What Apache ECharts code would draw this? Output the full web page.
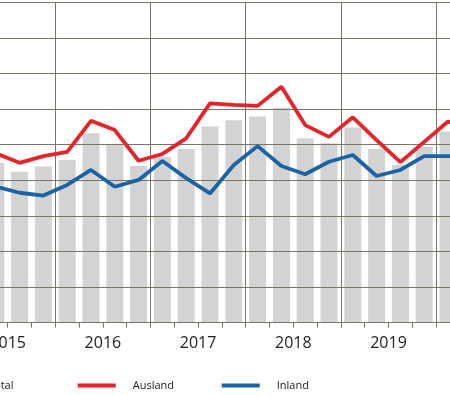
<!DOCTYPE html>
<html>
<head>
<meta charset="utf-8">
<script src="https://cdn.jsdelivr.net/npm/echarts@6/dist/echarts.min.js"></script>
<style>
html,body{margin:0;padding:0;background:#fff;overflow:hidden;}
#wrap{position:relative;width:450px;height:395px;overflow:hidden;}
#chart{position:absolute;left:-80px;top:0;width:620px;height:395px;}
</style>
</head>
<body>
<div id="wrap"><div id="chart"></div></div>
<script>
// Quarterly categories 2015 Q1 – 2020 Q4 (chart is cropped at both sides)
var quarters = [
  '2015 Q1','2015 Q2','2015 Q3','2015 Q4',
  '2016 Q1','2016 Q2','2016 Q3','2016 Q4',
  '2017 Q1','2017 Q2','2017 Q3','2017 Q4',
  '2018 Q1','2018 Q2','2018 Q3','2018 Q4',
  '2019 Q1','2019 Q2','2019 Q3','2019 Q4',
  '2020 Q1','2020 Q2','2020 Q3','2020 Q4'
];
var years = ['2015','2016','2017','2018','2019','2020'];

var total = [null,44.9,42.4,43.9, 45.7,53.2,50.2,44.0, 46.6,48.8,55.1,56.9, 57.9,60.4,51.8,50.4, 54.8,48.8,44.3,49.4, 53.7,null,null,null];
var ausland = [null,47.6,44.9,46.8, 48.0,56.7,54.1,45.5, 47.4,51.8,61.6,61.2, 60.9,66.3,55.5,52.2, 57.7,51.3,45.1,50.8, 56.5,54.7,null,null];
var inland = [null,38.2,36.5,35.7, 38.7,42.9,38.2,40.1, 45.4,40.6,36.3,44.3, 49.6,44.0,41.7,45.2, 47.1,41.2,42.9,46.8, 46.8,46.8,null,null];

var gridColor = '#7a7366';
var chart = echarts.init(document.getElementById('chart'), null, {renderer:'canvas'});
var legendText = {fontFamily:'Open Sans', fontSize:11, color:'#222', padding:[0,0,0,12]};
chart.setOption({
  animation:false,
  backgroundColor:'#ffffff',
  grid:{left:40.1, top:2.3, width:571.2, height:320.4, containLabel:false},
  legend:[
    {data:[{name:'Total', icon:'rect'}], left:8, top:375, itemWidth:38, itemHeight:9, textStyle:legendText},
    {data:[{name:'Ausland', icon:'rect'}], left:152.7, top:375, itemWidth:38, itemHeight:4, textStyle:legendText},
    {data:[{name:'Inland', icon:'rect'}], left:296.7, top:375, itemWidth:38, itemHeight:4, textStyle:legendText}
  ],
  xAxis:[
    {type:'category', data:quarters, boundaryGap:true, z:3,
     axisLine:{show:true, lineStyle:{color:gridColor, width:1}},
     axisTick:{show:true, interval:0, length:5, lineStyle:{color:gridColor}},
     axisLabel:{show:false},
     splitLine:{show:true, interval:function(i){return i%4===0;}, lineStyle:{color:gridColor, width:1}}},
    {type:'category', data:years, position:'bottom', boundaryGap:true,
     axisLine:{show:false}, axisTick:{show:false},
     axisLabel:{show:true, interval:0, fontFamily:'Open Sans', fontSize:16, color:'#222', margin:13},
     splitLine:{show:false}}
  ],
  yAxis:{type:'value', min:0, max:90, interval:10, z:3,
    axisLine:{show:false}, axisTick:{show:false}, axisLabel:{show:false},
    splitLine:{show:true, lineStyle:{color:gridColor, width:1}}},
  series:[
    {name:'Total', type:'bar', data:total, barWidth:17, z:1, itemStyle:{color:'#d3d3d3'}},
    {name:'Ausland', type:'line', data:ausland, z:5, symbol:'none', lineStyle:{color:'#e5242a', width:3.8}, itemStyle:{color:'#e5242a'}},
    {name:'Inland', type:'line', data:inland, z:5, symbol:'none', lineStyle:{color:'#1a64a6', width:3.8}, itemStyle:{color:'#1a64a6'}}
  ]
});
</script>
</body>
</html>
